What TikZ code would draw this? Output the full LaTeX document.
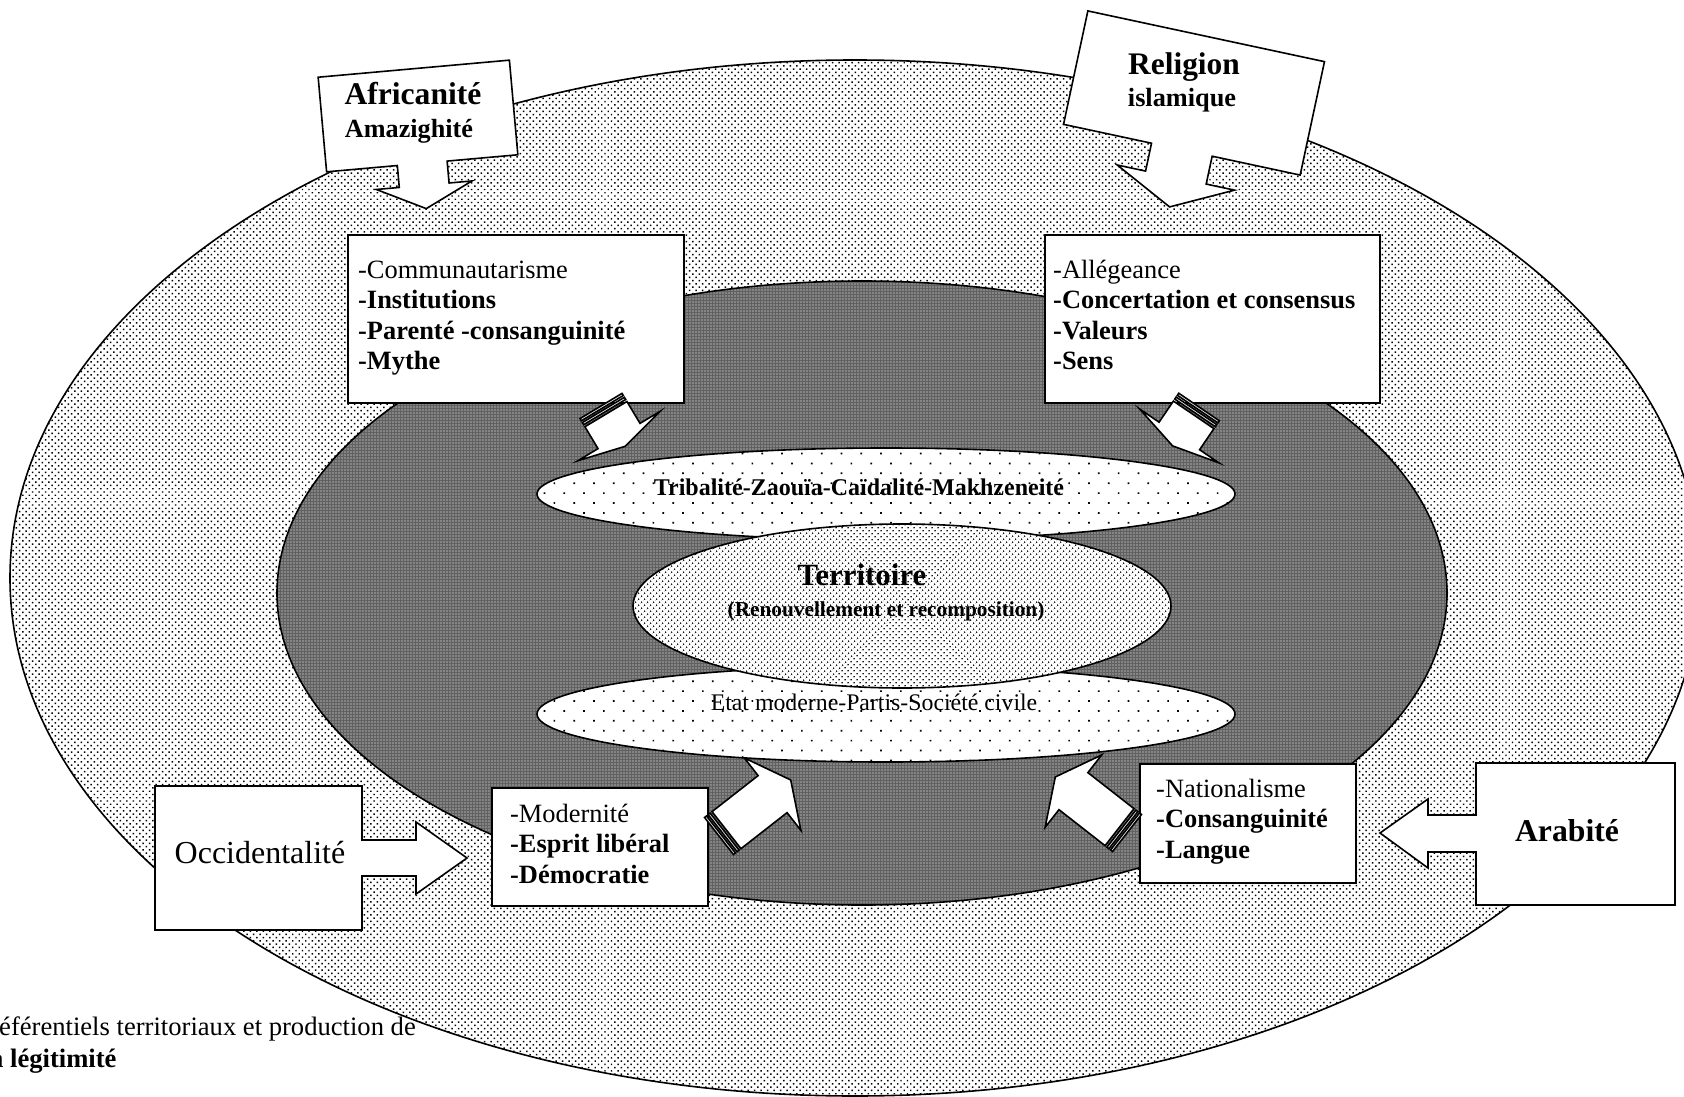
\documentclass[tikz,border=0pt]{standalone}
\usepackage{fontspec}
\setmainfont{Liberation Serif}
\usetikzlibrary{shapes.geometric,patterns.meta}
\tikzset{
  outline/.style={draw=black, line width=1.6pt, line join=miter},
  whitebox/.style={outline, fill=white},
  plainbox/.style={whitebox, rectangle, inner sep=0pt, anchor=north west},
  dotsfield/.style={ellipse, inner sep=0pt, outline, preaction={fill=white},
      pattern={Dots[distance=4.6pt, angle=45, radius=1.05pt]}, pattern color=black},
  darkfield/.style={ellipse, inner sep=0pt, outline, preaction={fill=black!62},
      pattern={Dots[distance=3pt, angle=0, radius=0.72pt]}, pattern color=white},
  sparsefield/.style={ellipse, inner sep=0pt, outline, preaction={fill=white},
      pattern={Dots[distance=14pt, angle=45, radius=1.2pt]}, pattern color=black},
  densefield/.style={ellipse, inner sep=0pt, outline, preaction={fill=white},
      pattern={Dots[distance=4pt, angle=45, radius=0.9pt]}, pattern color=black},
  listtext/.style={inner sep=0pt, anchor=base west, font=\fontsize{26.4}{30.5}\selectfont},
  boldtxt/.style={inner sep=0pt, anchor=base, font=\bfseries\fontsize{#1}{#1}\selectfont},
  regtxt/.style={inner sep=0pt, anchor=base, font=\fontsize{#1}{#1}\selectfont},
  pics/stripedarrow/.style n args={5}{code={
    \path[whitebox] (0,-#3) rectangle (2.5,#3);
    \path[whitebox] (4.6,-#3) rectangle (7.1,#3);
    \path[whitebox] (#1,-#3) -- (#2,-#3) -- (#2,-#4) -- (#5,0) -- (#2,#4) -- (#2,#3) -- (#1,#3) -- cycle;
  }},
}
\begin{document}
\begin{tikzpicture}[x=1pt, y=-1pt]
\useasboundingbox (0,0) rectangle (1684,1097);
\fill[white] (0,0) rectangle (1684,1097);

% nested fields
\node[dotsfield, minimum width=1690pt, minimum height=1036pt] (outer) at (855,578) {};
\node[darkfield, minimum width=1170pt, minimum height=624pt] (inner) at (862,593) {};
\node[sparsefield, minimum width=698pt, minimum height=92pt] (tribell) at (886,494) {};
\node[sparsefield, minimum width=698pt, minimum height=96pt] (etatell) at (886,714) {};
\node[densefield, minimum width=538pt, minimum height=164pt] (terrell) at (902,606) {};

\node[boldtxt=24] (tribtext) at (859,495) {Tribalité-Zaouïa-Caïdalité-Makhzeneité};
\node[boldtxt=30.9] (terrtext) at (862,585) {Territoire};
\node[boldtxt=21.3] (renotext) at (886,616) {(Renouvellement et recomposition)};
\node[regtxt=23.8] (etattext) at (874,710) {Etat moderne-Partis-Société civile};

% top callouts
\begin{scope}[shift={(418,116)}, rotate=5.1]
  \draw[whitebox] (-96,-47.5) -- (96,-47.5) -- (96,47.5) -- (25,47.5) -- (25,69.5) -- (48,69.5) -- (0,93) -- (-48,69.5) -- (-25,69.5) -- (-25,47.5) -- (-96,47.5) -- cycle;
\end{scope}
\node[boldtxt=31.6] (afr) at (413,105) {Africanité};
\node[boldtxt=26.2] (amaz) at (409,138) {Amazighité};

\begin{scope}[shift={(1194,93)}, rotate=-12.1]
  \draw[whitebox] (-121,-58) -- (121,-58) -- (121,58) -- (31,58) -- (31,86.5) -- (60,86.5) -- (0,116.5) -- (-60,86.5) -- (-31,86.5) -- (-31,58) -- (-121,58) -- cycle;
\end{scope}
\node[boldtxt=31.4] (rel) at (1184,75) {Religion};
\node[boldtxt=26.3] (isl) at (1182,107) {islamique};

% side callouts
\draw[whitebox] (155,786) -- (362,786) -- (362,840) -- (416,840) -- (416,822) -- (467,858) -- (416,894) -- (416,876) -- (362,876) -- (362,930) -- (155,930) -- cycle;
\node[regtxt=32] (occ) at (260,863) {Occidentalité};

\draw[whitebox] (1675,763) -- (1476,763) -- (1476,815) -- (1428,815) -- (1428,799) -- (1380,833) -- (1428,868) -- (1428,852) -- (1476,852) -- (1476,905) -- (1675,905) -- cycle;
\node[boldtxt=31.7] (arab) at (1567,841) {Arabité};

% boxes
\node[plainbox, minimum width=336pt, minimum height=168pt] (commbox) at (347,234) {};
\node[listtext] (commtext) at (358,278) {\begin{tabular}[t]{@{}l@{}}-Communautarisme\\\textbf{-Institutions}\\\textbf{-Parenté -consanguinité}\\\textbf{-Mythe}\end{tabular}};

\node[plainbox, minimum width=335pt, minimum height=168pt] (allegbox) at (1044,234) {};
\node[listtext] (allegtext) at (1053,278) {\begin{tabular}[t]{@{}l@{}}-Allégeance\\\textbf{-Concertation et consensus}\\\textbf{-Valeurs}\\\textbf{-Sens}\end{tabular}};

\node[plainbox, minimum width=216pt, minimum height=118pt] (modbox) at (491,787) {};
\node[listtext] (modtext) at (510,822) {\begin{tabular}[t]{@{}l@{}}-Modernité\\\textbf{-Esprit libéral}\\\textbf{-Démocratie}\end{tabular}};

\node[plainbox, minimum width=216pt, minimum height=119pt] (natbox) at (1139,763) {};
\node[listtext] (nattext) at (1156,797) {\begin{tabular}[t]{@{}l@{}}-Nationalisme\\\textbf{-Consanguinité}\\\textbf{-Langue}\end{tabular}};

% striped arrows
\pic[rotate=-59] at (601,406) {stripedarrow={9.5}{35}{24.5}{48}{47}};
\pic[rotate=-124.2] at (1199,407) {stripedarrow={9.5}{35}{24.5}{48}{47}};
\pic[rotate=38] at (719,836) {stripedarrow={9.5}{68}{23.5}{46}{91}};
\pic[rotate=142] at (1127,833) {stripedarrow={9.5}{68}{23.5}{46}{91}};

% caption fragment
\node[inner sep=0pt, anchor=base west, font=\fontsize{26.6}{30}\selectfont] (cap1) at (-1,1035) {éférentiels territoriaux et production de};
\node[inner sep=0pt, anchor=base west, font=\bfseries\fontsize{26.6}{30}\selectfont] (cap2) at (-10,1067) {a légitimité};
\end{tikzpicture}
\end{document}
